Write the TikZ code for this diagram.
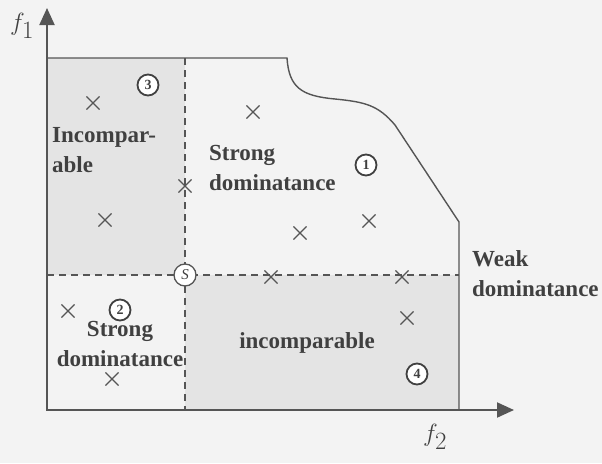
\documentclass[tikz,border=0pt]{standalone}
\usepackage{fontspec}
\setmainfont{Liberation Serif}
\usetikzlibrary{arrows.meta,shapes.misc}
\definecolor{bgcol}{HTML}{F3F3F3}
\definecolor{shadecol}{HTML}{E4E4E4}
\definecolor{ink}{HTML}{555555}
\definecolor{txt}{HTML}{404040}
\tikzset{
  pt/.style={cross out,draw=ink,line width=1.1pt,minimum size=12pt,inner sep=0pt},
  num/.style={circle,draw=txt,line width=1.8pt,fill=white,inner sep=0pt,minimum size=21pt,
              font=\fontsize{14}{14}\selectfont\bfseries,text=txt},
  lbl/.style={font=\fontsize{23}{30}\selectfont\bfseries,text=txt,inner sep=0pt},
  axis/.style={ink,line width=2pt,-{Triangle[length=17pt,width=15pt]}},
  bound/.style={ink,line width=1.4pt},
  dsh/.style={ink,line width=1.4pt,dash pattern=on 7pt off 5pt}
}
\begin{document}
\begin{tikzpicture}[x=1pt,y=-1pt]
\fill[bgcol] (0,0) rectangle (602,463);
\useasboundingbox (0,0) rectangle (602,463);
% shaded regions
\fill[shadecol] (47,58) rectangle (185,275);
\fill[shadecol] (185,275) rectangle (459,410);
% coordinates
\coordinate (O) at (47,410);
\coordinate (ytip) at (47,8);
\coordinate (xtip) at (514,410);
\coordinate (tl) at (47,58);
\coordinate (tk) at (287,58);
\coordinate (rc) at (459,222);
\coordinate (rb) at (459,410);
\coordinate (vt) at (185,58);
\coordinate (vb) at (185,410);
\coordinate (hl) at (47,275);
\coordinate (hr) at (459,275);
% boundary
\draw[bound] (tl) -- (tk) .. controls (289,88) and (302,96) .. (335,99)
  .. controls (365,102) and (378,105) .. (395,125) -- (rc) -- (rb);
% dashed lines
\draw[dsh] (vt) -- (vb);
\draw[dsh] (hl) -- (hr);
% axes
\draw[axis] (O) -- (ytip);
\draw[axis] ([xshift=-1pt]O) -- (xtip);
\node[font=\fontsize{33}{33}\selectfont,text=txt] (f1) at (22,26) {$f_1$};
\node[font=\fontsize{33}{33}\selectfont,text=txt] (f2) at (435,437) {$f_2$};
% reference point
\node[circle,draw=ink,line width=1.3pt,fill=white,minimum size=22pt,inner sep=0pt,
      font=\fontsize{15}{15}\selectfont\itshape,text=txt] (S) at (185,275) {S};
% points
\node[pt] (p1) at (93,103) {};
\node[pt] (p2) at (253,112) {};
\node[pt] (p3) at (185,186) {};
\node[pt] (p4) at (105,220) {};
\node[pt] (p5) at (300,233) {};
\node[pt] (p6) at (369,221) {};
\node[pt] (p7) at (271,277) {};
\node[pt] (p8) at (402,277) {};
\node[pt] (p9) at (68,311) {};
\node[pt] (p10) at (407,318) {};
\node[pt] (p11) at (112,379) {};
% circled numbers
\node[num] (n3) at (148,85) {3};
\node[num] (n1) at (366,165) {1};
\node[num] (n2) at (120,310) {2};
\node[num] (n4) at (417,374) {4};
% labels
\node[lbl,align=left,anchor=west] (l1) at (52,150) {Incompar-\\able};
\node[lbl,align=left,anchor=west] (l2) at (209,168) {Strong\\dominatance};
\node[lbl,align=center] (l3) at (120,344) {Strong\\dominatance};
\node[lbl] (l4) at (307,343) {incomparable};
\node[lbl,align=left,anchor=west] (l5) at (472,274) {Weak\\dominatance};
\end{tikzpicture}
\end{document}
